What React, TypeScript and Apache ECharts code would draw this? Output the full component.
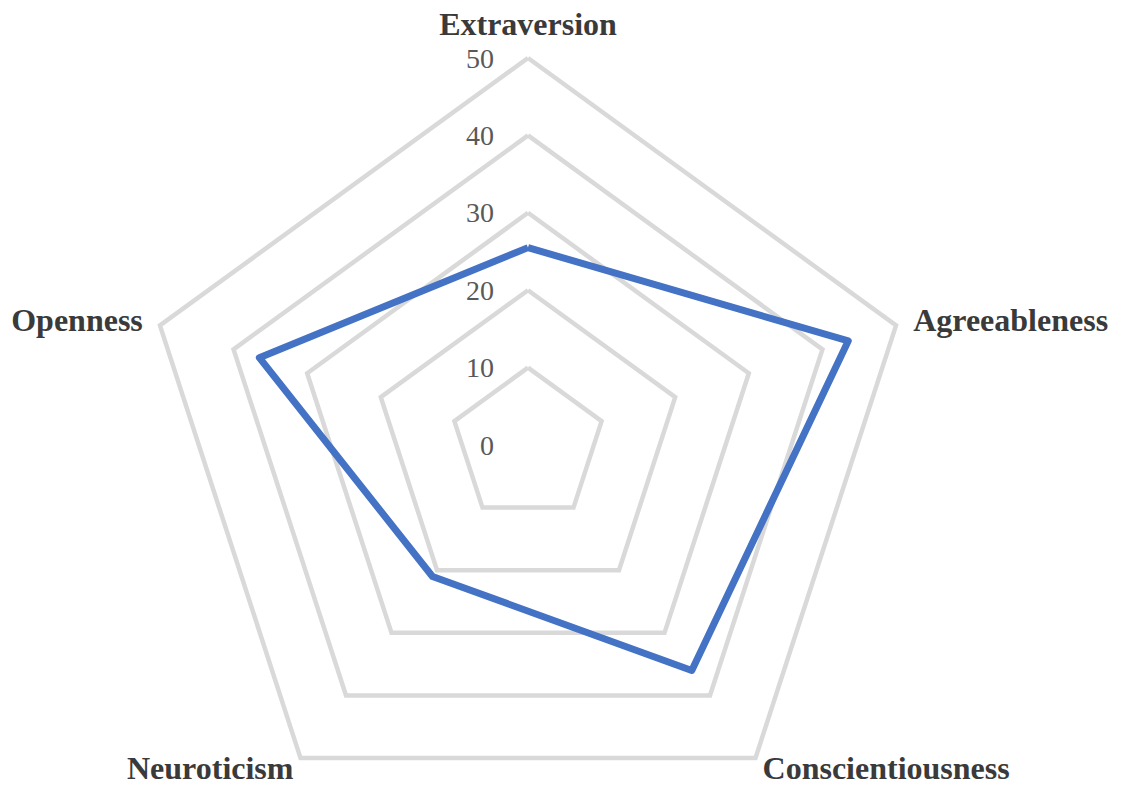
import React, { useEffect, useRef } from "react";
import * as echarts from "echarts";

// Values listed clockwise from the top, as in the reference
const traits = ["Extraversion", "Agreeableness", "Conscientiousness", "Neuroticism", "Openness"];
const scores = [25.5, 43.5, 36, 21, 36.5];
const axisMax = 50;
const splitCount = 5;

export default function App() {
  const ref = useRef<HTMLDivElement>(null);
  useEffect(() => {
    if (!ref.current) return;
    const chart = echarts.init(ref.current, null, { renderer: "svg" });
    // ECharts lays indicators counter-clockwise; reorder to draw clockwise
    const order = [0, 4, 3, 2, 1];
    const names = order.map((i) => traits[i]);
    const vals = order.map((i) => scores[i]);
    const gaps = [21, 18, 12, 12, 18];
    chart.setOption({
      animation: false,
      backgroundColor: "#ffffff",
      radar: {
        center: [528, 445],
        radius: 387,
        startAngle: 90,
        splitNumber: splitCount,
        shape: "polygon",
        nameGap: 18,
        axisName: {
          color: "#3a3a3a",
          fontFamily: "Liberation Serif",
          fontWeight: "bold",
          fontSize: 32,
          lineHeight: 26,
        },
        indicator: names.map((t, i) => ({
          name: t,
          min: 0,
          max: axisMax,
          nameGap: gaps[i],
          ...(i === 0
            ? {
                axisLabel: {
                  show: true,
                  color: "#595959",
                  fontFamily: "Liberation Serif",
                  fontSize: 28,
                  margin: 34,
                },
              }
            : {}),
        })),
        axisLine: { show: false },
        axisTick: { show: false },
        splitArea: { show: false },
        splitLine: { lineStyle: { color: "#d9d9d9", width: 4.5 } },
      },
      series: [
        {
          type: "radar",
          symbol: "none",
          lineStyle: { color: "#4472c4", width: 7 },
          data: [{ value: vals, name: "Score" }],
        },
      ],
    });
    return () => chart.dispose();
  }, []);
  return (
    <div
      ref={ref}
      style={{ position: "fixed", left: 0, top: 0, width: 1125, height: 786 }}
    />
  );
}
